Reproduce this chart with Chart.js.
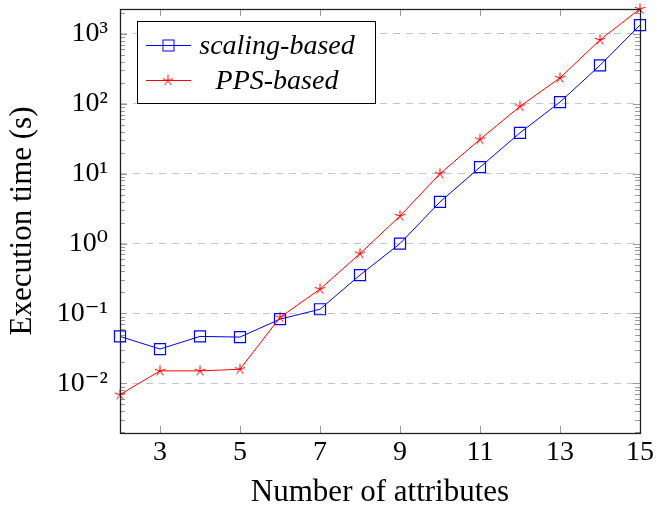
<!DOCTYPE html>
<html>
<head>
<meta charset="utf-8">
<script src="https://cdn.jsdelivr.net/npm/chart.js@4.4.0/dist/chart.umd.min.js"></script>
<style>
html, body { margin: 0; padding: 0; background: #fff; }
</style>
</head>
<body>
<canvas id="chart" width="657" height="514"></canvas>
<script>
// Data (execution time in seconds, log axis)
const attributes = [2, 3, 4, 5, 6, 7, 8, 9, 10, 11, 12, 13, 14, 15];
const scalingTimes = [0.047, 0.031, 0.047, 0.046, 0.083, 0.115, 0.355, 1.0, 3.95, 12.4, 38.5, 106, 356, 1340];
const ppsTimes = [0.0069, 0.0151, 0.0151, 0.0159, 0.088, 0.223, 0.72, 2.48, 10, 31, 92, 235, 822, 2280];
const seriesNames = ['scaling-based', 'PPS-based'];
const xTicks = [3, 5, 7, 9, 11, 13, 15];
const yTicks = [0.01, 0.1, 1, 10, 100, 1000];
const yTickLabels = ['10⁻²', '10⁻¹', '10⁰', '10¹', '10²', '10³'];

const serif = "'Liberation Serif', 'DejaVu Serif', serif";
const BLUE = '#0000ff';
const RED = '#ff0000';

// five-armed asterisk like the pgfplots "star" mark
function makeStar(color) {
    const c = document.createElement('canvas');
    c.width = 14; c.height = 14;
    const g = c.getContext('2d');
    g.strokeStyle = color;
    g.lineWidth = 1;
    g.beginPath();
    for (let k = 0; k < 5; k++) {
        const ang = -Math.PI / 2 + k * 2 * Math.PI / 5;
        g.moveTo(7, 7);
        g.lineTo(7 + 5.5 * Math.cos(ang), 7 + 5.5 * Math.sin(ang));
    }
    g.stroke();
    return c;
}
const starMark = makeStar(RED);

// tick marks, box frame and legend
const framePlugin = {
    id: 'frame',
    beforeDatasetsDraw(chart) {
        const { ctx, chartArea: a, scales: { x, y } } = chart;
        ctx.save();
        ctx.strokeStyle = '#9a9a9a';
        ctx.lineWidth = 1;
        ctx.beginPath();
        for (let e = -3; e <= 3; e++) {
            for (let m = 1; m <= 9; m++) {
                const v = m * Math.pow(10, e);
                if (v < y.min || v > y.max) continue;
                const py = Math.round(y.getPixelForValue(v)) + 0.5;
                const len = m === 1 ? 7 : 5;
                ctx.moveTo(a.left, py); ctx.lineTo(a.left + len, py);
                ctx.moveTo(a.right, py); ctx.lineTo(a.right - len, py);
            }
        }
        xTicks.forEach(v => {
            const px = Math.round(x.getPixelForValue(v)) + 0.5;
            ctx.moveTo(px, a.bottom); ctx.lineTo(px, a.bottom - 7);
            ctx.moveTo(px, a.top); ctx.lineTo(px, a.top + 7);
        });
        ctx.stroke();
        ctx.restore();
    },
    afterDatasetsDraw(chart) {
        const { ctx, chartArea: a } = chart;
        ctx.save();
        ctx.strokeStyle = '#222';
        ctx.lineWidth = 1.3;
        ctx.strokeRect(a.left + 0.5, a.top + 0.5, a.right - a.left, a.bottom - a.top);

        // legend box
        const lx = a.left + 17, ly = a.top + 12, lw = 238, lh = 82;
        ctx.fillStyle = '#fff';
        ctx.fillRect(lx, ly, lw, lh);
        ctx.lineWidth = 1;
        ctx.strokeStyle = '#000';
        ctx.strokeRect(lx + 0.5, ly + 0.5, lw, lh);

        const rows = [ly + 24.5, ly + 59.5];
        const x0 = lx + 9, x1 = lx + 54, xm = lx + 31;
        // scaling-based
        ctx.strokeStyle = BLUE;
        ctx.beginPath(); ctx.moveTo(x0, rows[0]); ctx.lineTo(x1, rows[0]); ctx.stroke();
        ctx.strokeRect(xm - 5, rows[0] - 5.5, 11, 11);
        // PPS-based
        ctx.strokeStyle = RED;
        ctx.beginPath(); ctx.moveTo(x0, rows[1]); ctx.lineTo(x1, rows[1]); ctx.stroke();
        ctx.drawImage(starMark, xm - 7, rows[1] - 7);

        ctx.fillStyle = '#000';
        ctx.font = 'italic 28px ' + serif;
        ctx.textAlign = 'center';
        ctx.textBaseline = 'middle';
        const tx = lx + 140;
        ctx.fillText(seriesNames[0], tx, rows[0] + 1);
        ctx.fillText(seriesNames[1], tx, rows[1] + 1);
        ctx.restore();
    }
};

const ctx = document.getElementById('chart').getContext('2d');
new Chart(ctx, {
    type: 'line',
    data: {
        labels: attributes,
        datasets: [{
            label: seriesNames[0],
            data: attributes.map((a, i) => ({ x: a, y: scalingTimes[i] })),
            borderColor: BLUE,
            backgroundColor: 'rgba(0,0,0,0)',
            borderWidth: 1,
            pointStyle: 'rect',
            pointRadius: 7.8,
            pointBorderWidth: 1.2,
            pointBorderColor: BLUE,
            pointBackgroundColor: 'rgba(0,0,0,0)',
            tension: 0,
            clip: false,
            order: 1
        }, {
            label: seriesNames[1],
            data: attributes.map((a, i) => ({ x: a, y: ppsTimes[i] })),
            borderColor: RED,
            backgroundColor: 'rgba(0,0,0,0)',
            borderWidth: 1,
            pointStyle: starMark,
            pointRadius: 6,
            tension: 0,
            clip: false,
            order: 0
        }]
    },
    options: {
        responsive: false,
        animation: false,
        devicePixelRatio: 1,
        layout: { padding: { left: 0, right: 17, top: 3, bottom: 0 } },
        plugins: {
            legend: { display: false },
            tooltip: { enabled: false }
        },
        scales: {
            x: {
                type: 'linear',
                min: 2,
                max: 15,
                afterBuildTicks: s => { s.ticks = xTicks.map(v => ({ value: v })); },
                afterFit: s => { s.height = 81; s.paddingLeft = 0; s.paddingRight = 0; },
                grid: { display: false, drawTicks: false },
                border: { display: false },
                ticks: {
                    autoSkip: false,
                    maxRotation: 0,
                    padding: 3,
                    color: '#000',
                    font: { family: serif, size: 28 }
                },
                title: {
                    display: true,
                    text: 'Number of attributes',
                    color: '#000',
                    font: { family: serif, size: 31 },
                    padding: 3
                }
            },
            y: {
                type: 'logarithmic',
                min: 0.00195,
                max: 2275,
                afterBuildTicks: s => { s.ticks = yTicks.map(v => ({ value: v })); },
                afterFit: s => { s.width = 120; s.paddingTop = 0; s.paddingBottom = 0; },
                grid: { color: '#c4c4c4', lineWidth: 1, drawTicks: false },
                border: { display: false, dash: [7, 6] },
                ticks: {
                    autoSkip: false,
                    padding: 12,
                    color: '#000',
                    font: { family: serif, size: 28 },
                    callback: (v, i) => yTickLabels[i]
                },
                title: {
                    display: true,
                    text: 'Execution time (s)',
                    color: '#000',
                    font: { family: serif, size: 31 },
                    padding: 4
                }
            }
        }
    },
    plugins: [framePlugin]
});
</script>
</body>
</html>
